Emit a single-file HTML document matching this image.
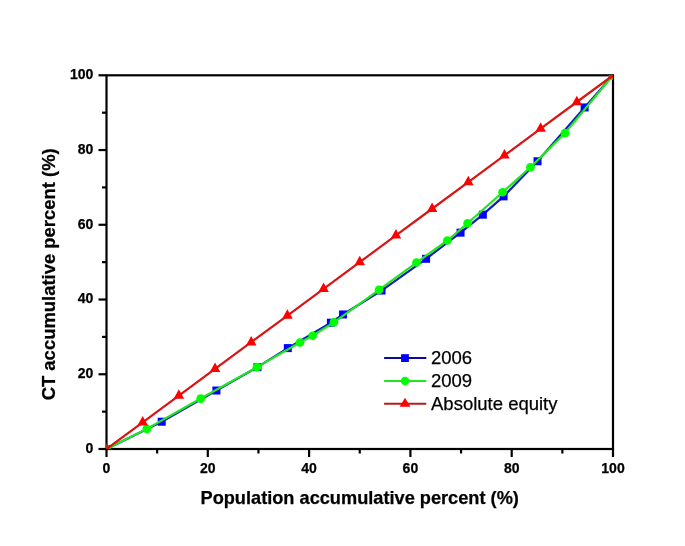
<!DOCTYPE html>
<html><head><meta charset="utf-8"><style>
html,body{margin:0;padding:0;background:#fff;}
body{width:685px;height:546px;overflow:hidden;}
svg{display:block;will-change:transform;}
text{font-family:"Liberation Sans",sans-serif;stroke:#000;stroke-width:0.25px;}
</style></head><body>
<svg width="685" height="546" viewBox="0 0 685 546">
<rect width="685" height="546" fill="#fff"/>

<defs><clipPath id="pc"><rect x="106.50" y="75.30" width="506.50" height="373.70"/></clipPath></defs>
<rect x="106.50" y="75.30" width="506.50" height="373.70" fill="none" stroke="#000" stroke-width="2.2"/>
<line x1="106.50" y1="449.00" x2="106.50" y2="457.00" stroke="#000" stroke-width="2.2"/>
<line x1="106.50" y1="449.00" x2="98.50" y2="449.00" stroke="#000" stroke-width="2.2"/>
<line x1="157.15" y1="449.00" x2="157.15" y2="453.50" stroke="#000" stroke-width="2.2"/>
<line x1="106.50" y1="411.63" x2="102.00" y2="411.63" stroke="#000" stroke-width="2.2"/>
<line x1="207.80" y1="449.00" x2="207.80" y2="457.00" stroke="#000" stroke-width="2.2"/>
<line x1="106.50" y1="374.26" x2="98.50" y2="374.26" stroke="#000" stroke-width="2.2"/>
<line x1="258.45" y1="449.00" x2="258.45" y2="453.50" stroke="#000" stroke-width="2.2"/>
<line x1="106.50" y1="336.89" x2="102.00" y2="336.89" stroke="#000" stroke-width="2.2"/>
<line x1="309.10" y1="449.00" x2="309.10" y2="457.00" stroke="#000" stroke-width="2.2"/>
<line x1="106.50" y1="299.52" x2="98.50" y2="299.52" stroke="#000" stroke-width="2.2"/>
<line x1="359.75" y1="449.00" x2="359.75" y2="453.50" stroke="#000" stroke-width="2.2"/>
<line x1="106.50" y1="262.15" x2="102.00" y2="262.15" stroke="#000" stroke-width="2.2"/>
<line x1="410.40" y1="449.00" x2="410.40" y2="457.00" stroke="#000" stroke-width="2.2"/>
<line x1="106.50" y1="224.78" x2="98.50" y2="224.78" stroke="#000" stroke-width="2.2"/>
<line x1="461.05" y1="449.00" x2="461.05" y2="453.50" stroke="#000" stroke-width="2.2"/>
<line x1="106.50" y1="187.41" x2="102.00" y2="187.41" stroke="#000" stroke-width="2.2"/>
<line x1="511.70" y1="449.00" x2="511.70" y2="457.00" stroke="#000" stroke-width="2.2"/>
<line x1="106.50" y1="150.04" x2="98.50" y2="150.04" stroke="#000" stroke-width="2.2"/>
<line x1="562.35" y1="449.00" x2="562.35" y2="453.50" stroke="#000" stroke-width="2.2"/>
<line x1="106.50" y1="112.67" x2="102.00" y2="112.67" stroke="#000" stroke-width="2.2"/>
<line x1="613.00" y1="449.00" x2="613.00" y2="457.00" stroke="#000" stroke-width="2.2"/>
<line x1="106.50" y1="75.30" x2="98.50" y2="75.30" stroke="#000" stroke-width="2.2"/>
<text x="106.50" y="473.00" font-size="14" font-weight="bold" text-anchor="middle">0</text>
<text x="93.3" y="452.80" font-size="14" font-weight="bold" text-anchor="end">0</text>
<text x="207.80" y="473.00" font-size="14" font-weight="bold" text-anchor="middle">20</text>
<text x="93.3" y="378.06" font-size="14" font-weight="bold" text-anchor="end">20</text>
<text x="309.10" y="473.00" font-size="14" font-weight="bold" text-anchor="middle">40</text>
<text x="93.3" y="303.32" font-size="14" font-weight="bold" text-anchor="end">40</text>
<text x="410.40" y="473.00" font-size="14" font-weight="bold" text-anchor="middle">60</text>
<text x="93.3" y="228.58" font-size="14" font-weight="bold" text-anchor="end">60</text>
<text x="511.70" y="473.00" font-size="14" font-weight="bold" text-anchor="middle">80</text>
<text x="93.3" y="153.84" font-size="14" font-weight="bold" text-anchor="end">80</text>
<text x="613.00" y="473.00" font-size="14" font-weight="bold" text-anchor="middle">100</text>
<text x="93.3" y="79.10" font-size="14" font-weight="bold" text-anchor="end">100</text>
<text x="359.7" y="503.5" font-size="18.2" font-weight="bold" text-anchor="middle">Population accumulative percent (%)</text>
<text transform="translate(55,274.3) rotate(-90)" x="0" y="0" font-size="18.45" font-weight="bold" text-anchor="middle">CT accumulative percent (%)</text>
<g clip-path="url(#pc)">
<polyline points="106.50,449.00 161.71,421.72 216.41,390.52 257.44,367.16 287.83,348.10 330.88,322.69 343.04,314.47 381.53,290.55 426.10,258.79 460.54,232.63 482.83,214.69 503.60,196.38 537.53,161.25 584.64,107.44 613.00,75.30" fill="none" stroke="#1020b4" stroke-width="2.2" stroke-linejoin="round"/>
<rect x="102.50" y="445.00" width="8.00" height="8.00" fill="#0000ff"/>
<rect x="157.71" y="417.72" width="8.00" height="8.00" fill="#0000ff"/>
<rect x="212.41" y="386.52" width="8.00" height="8.00" fill="#0000ff"/>
<rect x="253.44" y="363.16" width="8.00" height="8.00" fill="#0000ff"/>
<rect x="283.83" y="344.10" width="8.00" height="8.00" fill="#0000ff"/>
<rect x="326.88" y="318.69" width="8.00" height="8.00" fill="#0000ff"/>
<rect x="339.04" y="310.47" width="8.00" height="8.00" fill="#0000ff"/>
<rect x="377.53" y="286.55" width="8.00" height="8.00" fill="#0000ff"/>
<rect x="422.10" y="254.79" width="8.00" height="8.00" fill="#0000ff"/>
<rect x="456.54" y="228.63" width="8.00" height="8.00" fill="#0000ff"/>
<rect x="478.83" y="210.69" width="8.00" height="8.00" fill="#0000ff"/>
<rect x="499.60" y="192.38" width="8.00" height="8.00" fill="#0000ff"/>
<rect x="533.53" y="157.25" width="8.00" height="8.00" fill="#0000ff"/>
<rect x="580.64" y="103.44" width="8.00" height="8.00" fill="#0000ff"/>
<rect x="609.00" y="71.30" width="8.00" height="8.00" fill="#0000ff"/>
<polyline points="106.50,449.00 146.82,428.89 200.71,398.55 256.93,367.16 299.98,342.50 312.65,335.77 333.92,322.32 379.00,289.80 416.48,262.52 447.37,240.48 467.63,223.29 502.58,192.27 530.44,167.23 564.88,133.22 613.00,75.30" fill="none" stroke="#22e622" stroke-width="2.2" stroke-linejoin="round"/>
<circle cx="106.50" cy="449.00" r="4.35" fill="#00ff00"/>
<circle cx="146.82" cy="428.89" r="4.35" fill="#00ff00"/>
<circle cx="200.71" cy="398.55" r="4.35" fill="#00ff00"/>
<circle cx="256.93" cy="367.16" r="4.35" fill="#00ff00"/>
<circle cx="299.98" cy="342.50" r="4.35" fill="#00ff00"/>
<circle cx="312.65" cy="335.77" r="4.35" fill="#00ff00"/>
<circle cx="333.92" cy="322.32" r="4.35" fill="#00ff00"/>
<circle cx="379.00" cy="289.80" r="4.35" fill="#00ff00"/>
<circle cx="416.48" cy="262.52" r="4.35" fill="#00ff00"/>
<circle cx="447.37" cy="240.48" r="4.35" fill="#00ff00"/>
<circle cx="467.63" cy="223.29" r="4.35" fill="#00ff00"/>
<circle cx="502.58" cy="192.27" r="4.35" fill="#00ff00"/>
<circle cx="530.44" cy="167.23" r="4.35" fill="#00ff00"/>
<circle cx="564.88" cy="133.22" r="4.35" fill="#00ff00"/>
<circle cx="613.00" cy="75.30" r="4.35" fill="#00ff00"/>
<polyline points="106.50,449.00 142.68,422.31 178.86,395.61 215.04,368.92 251.21,342.23 287.39,315.54 323.57,288.84 359.75,262.15 395.93,235.46 432.11,208.76 468.29,182.07 504.46,155.38 540.64,128.69 576.82,101.99 613.00,75.30" fill="none" stroke="#d81414" stroke-width="2.2" stroke-linejoin="round"/>
<polygon points="106.50,442.67 111.75,452.17 101.25,452.17" fill="#ff0000"/>
<polygon points="142.68,415.97 147.93,425.47 137.43,425.47" fill="#ff0000"/>
<polygon points="178.86,389.28 184.11,398.78 173.61,398.78" fill="#ff0000"/>
<polygon points="215.04,362.59 220.29,372.09 209.79,372.09" fill="#ff0000"/>
<polygon points="251.21,335.90 256.46,345.40 245.96,345.40" fill="#ff0000"/>
<polygon points="287.39,309.20 292.64,318.70 282.14,318.70" fill="#ff0000"/>
<polygon points="323.57,282.51 328.82,292.01 318.32,292.01" fill="#ff0000"/>
<polygon points="359.75,255.82 365.00,265.32 354.50,265.32" fill="#ff0000"/>
<polygon points="395.93,229.12 401.18,238.62 390.68,238.62" fill="#ff0000"/>
<polygon points="432.11,202.43 437.36,211.93 426.86,211.93" fill="#ff0000"/>
<polygon points="468.29,175.74 473.54,185.24 463.04,185.24" fill="#ff0000"/>
<polygon points="504.46,149.05 509.71,158.55 499.21,158.55" fill="#ff0000"/>
<polygon points="540.64,122.35 545.89,131.85 535.39,131.85" fill="#ff0000"/>
<polygon points="576.82,95.66 582.07,105.16 571.57,105.16" fill="#ff0000"/>
<polygon points="613.00,68.97 618.25,78.47 607.75,78.47" fill="#ff0000"/>
</g>
<line x1="384.1" y1="358.1" x2="426.3" y2="358.1" stroke="#0a0a96" stroke-width="2"/>
<rect x="401.10" y="354.20" width="7.80" height="7.80" fill="#0000ff"/>
<text x="431" y="364.30" font-size="18.5">2006</text>
<line x1="384.1" y1="381.0" x2="426.3" y2="381.0" stroke="#22e622" stroke-width="2"/>
<circle cx="405.00" cy="381.00" r="4.20" fill="#00ff00"/>
<text x="431" y="387.20" font-size="18.5">2009</text>
<line x1="384.1" y1="403.8" x2="426.3" y2="403.8" stroke="#b81a1e" stroke-width="2"/>
<polygon points="405.00,397.80 410.40,406.80 399.60,406.80" fill="#ff0000"/>
<text x="431" y="410.00" font-size="18.5">Absolute equity</text>
</svg></body></html>
